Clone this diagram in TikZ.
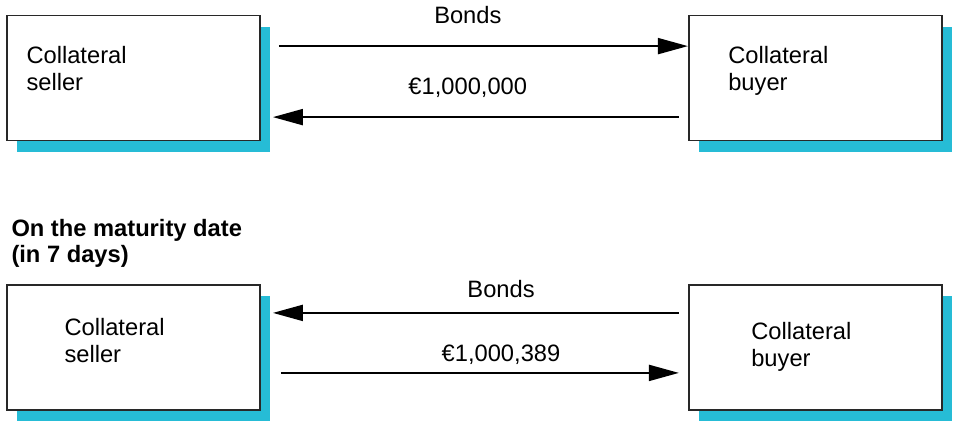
\documentclass[tikz,border=0pt]{standalone}
\usepackage{fontspec}
\setmainfont{Liberation Sans}
\usetikzlibrary{arrows.meta,positioning,shadows}
\definecolor{frame}{RGB}{40,40,40}
\definecolor{cyanshade}{RGB}{38,188,214}
\tikzset{
  party/.style={draw=frame,line width=0.9pt,fill=white,minimum width=126.5pt,minimum height=62.5pt,
    inner sep=0pt,drop shadow={shadow xshift=5pt,shadow yshift=-5.5pt,fill=cyanshade,opacity=1}},
  who/.style={font=\fontsize{11.85}{13.5}\selectfont,align=left,inner sep=0pt,anchor=base west},
  amt/.style={font=\fontsize{11.85}{13.5}\selectfont,inner sep=0pt,anchor=base},
  note/.style={font=\fontsize{11.85}{13}\selectfont\bfseries,align=left,inner sep=0pt,anchor=base west},
  flow/.style={-{Triangle[length=15pt,width=8pt]},line width=1pt},
}

\begin{document}
\begin{tikzpicture}[node distance=71.5pt and 213.5pt]
  \useasboundingbox (0,0) rectangle (477pt,-210pt);
  % opening leg
  \node[party] (sel1) at (66.75pt,-39pt) {};
  \node[party,right=of sel1] (buy1) {};
  \node[who] at ([xshift=10pt,yshift=-37.75pt]sel1.north west) {Collateral\\seller};
  \node[who] at ([xshift=20pt,yshift=-37.75pt]buy1.north west) {Collateral\\buyer};
  \draw[flow] ([xshift=9pt,yshift=-15.75pt]sel1.north east) -- ([yshift=-15.75pt]buy1.north west)
    node[amt,pos=.462,yshift=11.2pt] {Bonds};
  \draw[flow] ([xshift=-4.5pt,yshift=-51.25pt]buy1.north west) -- ([xshift=6pt,yshift=-51.25pt]sel1.north east)
    node[amt,pos=.52,yshift=11.5pt] {€1,000,000};
  % closing leg
  \node[party,below=of sel1] (sel2) {};
  \node[party,right=of sel2] (buy2) {};
  \node[note] (when) at ([xshift=2.5pt,yshift=10.75pt]sel2.north west) {On the maturity date\\(in 7 days)};
  \node[who] at ([xshift=29pt,yshift=-39.25pt]sel2.north west) {Collateral\\seller};
  \node[who] at ([xshift=31.5pt,yshift=-41.25pt]buy2.north west) {Collateral\\buyer};
  \draw[flow] ([xshift=-4.5pt,yshift=-14.25pt]buy2.north west) -- ([xshift=6pt,yshift=-14.25pt]sel2.north east)
    node[amt,pos=.438,yshift=7.8pt] {Bonds};
  \draw[flow] ([xshift=10pt,yshift=-44.25pt]sel2.north east) -- ([xshift=-4.5pt,yshift=-44.25pt]buy2.north west)
    node[amt,pos=.553,yshift=5.8pt] {€1,000,389};
\end{tikzpicture}
\end{document}
